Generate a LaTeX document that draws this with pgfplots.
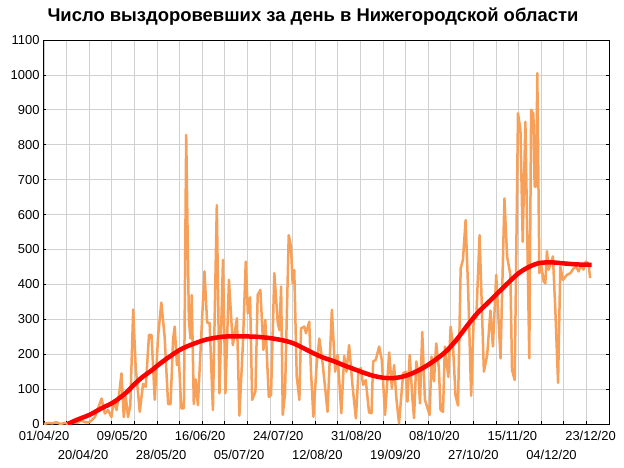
\documentclass[border=0pt]{standalone}
\usepackage{fontspec}
\setmainfont{Liberation Sans}
\usepackage{pgfplots}
\pgfplotsset{compat=1.18}
\definecolor{orng}{RGB}{247,160,90}
\definecolor{gridgray}{RGB}{208,208,208}
\begin{document}
\begin{tikzpicture}
\path[use as bounding box] (0,0) rectangle (624bp,468bp);
\begin{axis}[
  at={(43bp,44bp)}, anchor=south west,
  scale only axis, width=566bp, height=384bp,
  xmin=-0.5, xmax=275, ymin=0, ymax=1100,
  ytick={0,100,...,1100},
  xtick={0,38,76,114,152,190,228,266},
  xticklabels={01/04/20,09/05/20,16/06/20,24/07/20,31/08/20,08/10/20,15/11/20,23/12/20},
  extra x ticks={19,57,95,133,171,209,247},
  extra x tick labels={20/04/20,28/05/20,05/07/20,12/08/20,19/09/20,27/10/20,04/12/20},
  extra x tick style={grid=none, major tick length=0pt, tick label style={yshift=-19bp}},
  xticklabel style={yshift=-4bp},
  minor xtick={0,11,...,275},
  xmajorgrids=false, xminorgrids=true, ymajorgrids=true,
  every major x tick/.append style={draw=none},
  grid style={gridgray, line width=0.8bp},
  minor grid style={gridgray, line width=0.8bp},
  tick align=inside, xtick pos=bottom, ytick pos=both,
  major tick length=3bp, minor tick length=3bp,
  tick style={black, line width=0.8bp},
  axis line style={line width=0.8bp},
  tick label style={font=\fontsize{13}{15}\selectfont},
  /pgf/number format/assume math mode=true,
  /pgf/number format/1000 sep={},
  title={Число выздоровевших за день в Нижегородской области},
  title style={font=\fontsize{18.5}{22}\selectfont\bfseries, at={(0.5,1)}, anchor=base, yshift=13bp, xshift=-13bp},
]
\addplot[orng, line width=2.5bp, line join=round] coordinates {
(0,0) (2,3) (4,2) (6,5) (8,0) (10,3) (12,0) (14,5) (16,3) (18,10) (20,5) (22,5)
(23,10) (24.8,20) (28,73) (29.6,30) (31.2,40) (32.8,20) (34,68) (35.3,40) (36.6,88)
(37.7,145) (38.8,20) (39.8,78) (40.9,20) (42,54) (43.4,328) (44.6,164) (46.6,35)
(48.2,115) (49.5,106) (51.1,255) (52.3,255) (53.9,69) (55.5,250) (57.1,348) (58.7,250)
(60.4,57) (61.6,57) (62.8,241) (63.6,279) (64.7,169) (65.5,202) (66.8,45) (68.1,45)
(69.2,828) (70.5,298) (71.3,245) (71.9,369) (72.9,57) (73.8,128) (74.9,54) (76.5,250)
(78.1,437) (79.4,290) (80.6,290) (82.2,40) (84.1,627) (85.4,88) (87.1,470) (88.3,88)
(90,413) (91.9,226) (93.9,303) (95.1,24) (96.8,230) (98.2,465) (99.2,317) (100.3,363)
(101.3,69) (102.9,93) (104,370) (105.3,384) (106.8,212) (107.7,298) (109.4,78) (110.5,83)
(112.1,432) (113.8,288) (114.6,269) (115.4,394) (116.2,26) (117.3,88) (119.1,541) (120.2,508)
(121,403) (121.8,441) (123,136) (124.3,69) (125.1,274) (126.7,279) (127.5,260) (129.1,293)
(129.9,155) (131.1,21) (132.7,169) (134,245) (135.6,174) (138,35) (140.1,327) (141.7,150)
(142.9,198) (144.7,31) (146.1,195) (147.2,150) (148.5,226) (150.2,107) (151.8,16) (153.1,155)
(154.2,160) (155.3,112) (156.6,126) (158.2,33) (159.4,31) (160.2,179) (161.5,184) (163.1,222)
(164.4,184) (166,26) (168,205) (169.3,102) (170.4,169) (171.5,74) (172.8,2) (174.8,145)
(176.1,150) (176.9,64) (178,198) (179.3,74) (180.1,17) (181.2,179) (182.2,145) (183,59)
(184.1,264) (185.4,69) (187.7,26) (188.6,193) (189.8,122) (190.9,231) (192.2,160) (193,40)
(194.2,35) (195.1,222) (196.8,135) (197.9,279) (199,231) (200.3,81) (201.5,53) (202.8,446)
(203.9,470) (205.2,584) (206.5,374) (207.9,81) (209.2,312) (210.4,303) (212,541) (214.1,150)
(215.7,198) (217.3,325) (218.5,222) (220.1,427) (222.2,188) (224.1,646) (225.4,480) (227,427)
(227.8,155) (229.1,126) (230.7,890) (231.9,842) (233,522) (234.3,866) (236.2,188) (237.1,900)
(238.2,888) (238.8,680) (239.5,680) (240.1,1005) (241.1,432) (242,456) (243.2,408) (244,403)
(244.8,495) (245.6,442) (246.4,456) (247.7,480) (248.9,323) (250.2,118) (251.3,451) (252.6,413)
(254.5,427) (256.2,432) (257.8,446) (258.9,451) (260.2,437) (261.3,456) (262.6,442) (263.7,465)
(265,460) (265.8,418)
};
\addplot[red, line width=4.5bp, smooth] coordinates {
(11.5,0) (16,12) (22,26) (28,45) (34,63) (40,90) (44,114) (48,135) (52,152) (58,180)
(66,212) (72,228) (79,242) (87,250) (95,251) (103,250) (110,246) (116,240) (121,232)
(126,218) (131,203) (136,190) (141,180) (146,168) (151,157) (156,146) (161,137) (166,132)
(171,132) (176,138) (181,150) (186,166) (191,186) (196,210) (201,243) (206,282) (211,318)
(216,347) (221,376) (226,405) (231,432) (236,450) (241,461) (247,463) (253,460) (260,457) (266.5,456)
};
\end{axis}
\end{tikzpicture}
\end{document}
